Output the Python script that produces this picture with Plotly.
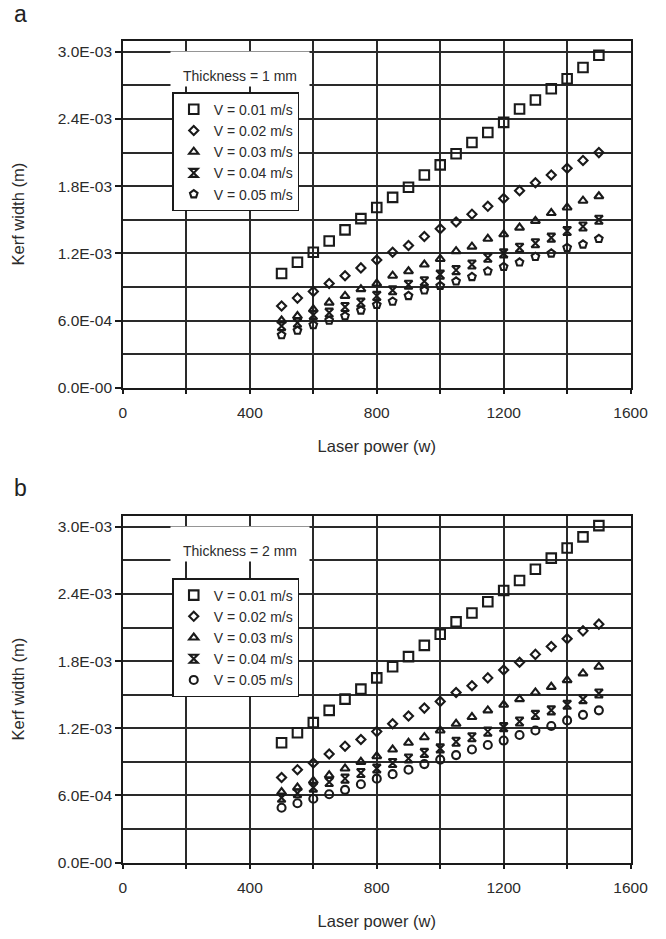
import plotly.graph_objects as go

# Laser power (W) shared by every series
power = [500, 550, 600, 650, 700, 750, 800, 850, 900, 950, 1000,
         1050, 1100, 1150, 1200, 1250, 1300, 1350, 1400, 1450, 1500]

speeds = ["V = 0.01 m/s", "V = 0.02 m/s", "V = 0.03 m/s", "V = 0.04 m/s", "V = 0.05 m/s"]

# Kerf width in mm (converted to m when plotted) - thickness 1 mm
kerf_1mm_v01 = [1.02, 1.12, 1.21, 1.31, 1.41, 1.51, 1.61, 1.70, 1.79, 1.90, 1.99,
                2.09, 2.19, 2.28, 2.37, 2.49, 2.57, 2.67, 2.76, 2.86, 2.97]
kerf_1mm_v02 = [0.73, 0.80, 0.86, 0.93, 1.00, 1.07, 1.14, 1.21, 1.27, 1.35, 1.42,
                1.48, 1.55, 1.62, 1.69, 1.76, 1.83, 1.90, 1.96, 2.03, 2.10]
kerf_1mm_v03 = [0.60, 0.64, 0.70, 0.76, 0.82, 0.88, 0.93, 1.00, 1.04, 1.10, 1.15,
                1.22, 1.26, 1.33, 1.37, 1.43, 1.49, 1.56, 1.61, 1.67, 1.71]
kerf_1mm_v04 = [0.55, 0.58, 0.65, 0.67, 0.72, 0.76, 0.82, 0.87, 0.92, 0.95, 1.01,
                1.05, 1.10, 1.16, 1.20, 1.25, 1.29, 1.34, 1.40, 1.44, 1.50]
kerf_1mm_v05 = [0.47, 0.51, 0.56, 0.60, 0.64, 0.69, 0.74, 0.77, 0.82, 0.87, 0.91,
                0.95, 0.99, 1.04, 1.08, 1.12, 1.17, 1.20, 1.25, 1.28, 1.33]

# Kerf width in mm - thickness 2 mm
kerf_2mm_v01 = [1.07, 1.16, 1.25, 1.36, 1.46, 1.55, 1.65, 1.75, 1.84, 1.94, 2.04,
                2.15, 2.23, 2.33, 2.43, 2.52, 2.62, 2.72, 2.81, 2.91, 3.01]
kerf_2mm_v02 = [0.76, 0.83, 0.89, 0.97, 1.04, 1.10, 1.17, 1.24, 1.31, 1.38, 1.44,
                1.52, 1.58, 1.65, 1.72, 1.79, 1.86, 1.93, 2.00, 2.07, 2.13]
kerf_2mm_v03 = [0.63, 0.67, 0.73, 0.78, 0.84, 0.90, 0.95, 1.01, 1.07, 1.12, 1.18,
                1.24, 1.30, 1.36, 1.41, 1.46, 1.52, 1.57, 1.63, 1.69, 1.75]
kerf_2mm_v04 = [0.58, 0.62, 0.67, 0.72, 0.75, 0.80, 0.84, 0.89, 0.93, 0.98, 1.02,
                1.08, 1.12, 1.17, 1.21, 1.26, 1.32, 1.36, 1.41, 1.46, 1.51]
kerf_2mm_v05 = [0.49, 0.53, 0.57, 0.61, 0.65, 0.70, 0.75, 0.79, 0.83, 0.88, 0.92,
                0.96, 1.01, 1.05, 1.09, 1.14, 1.18, 1.22, 1.27, 1.32, 1.36]

y_tick_vals = [0.0, 0.0006, 0.0012, 0.0018, 0.0024, 0.0030]
y_tick_text = ["0.0E-00", "6.0E-04", "1.2E-03", "1.8E-03", "2.4E-03", "3.0E-03"]
y_grid_vals = [0.0003 * i for i in range(11)]
x_tick_vals = [0, 400, 800, 1200, 1600]
x_tick_text = ["0", "400", "800", "1200", "1600"]

FONT = "Liberation Sans, Arial, Helvetica, sans-serif"
INK = "#1a1a1a"
GRID = "#2a2a2a"
TEXT = "#2b2b2b"

symbols_1mm = ["square-open", "diamond-open", "triangle-up-open", "hourglass-open", "pentagon-open"]
symbols_2mm = ["square-open", "diamond-open", "triangle-up-open", "hourglass-open", "circle-open"]
sizes = [9.5, 7, 8, 8, 8]

W, H = 666, 939
x_dom = [123 / W, 648 / W]
dom_a = [1 - 391 / H, 1 - 41 / H]
dom_b = [1 - 870 / H, 1 - 520 / H]

fig = go.Figure()

panels = [
    ("x", "y", "legend", [kerf_1mm_v01, kerf_1mm_v02, kerf_1mm_v03, kerf_1mm_v04, kerf_1mm_v05], symbols_1mm),
    ("x2", "y2", "legend2", [kerf_2mm_v01, kerf_2mm_v02, kerf_2mm_v03, kerf_2mm_v04, kerf_2mm_v05], symbols_2mm),
]
for xa, ya, leg, series, syms in panels:
    for name, vals, sym, sz in zip(speeds, series, syms, sizes):
        fig.add_trace(go.Scatter(
            x=power, y=[v * 1e-3 for v in vals], mode="markers", name=name,
            xaxis=xa, yaxis=ya, legend=leg,
            marker=dict(symbol=sym, size=sz, color=INK, line=dict(color=INK, width=2.1)),
        ))

def x_axis(domain, anchor):
    return dict(
        domain=domain, anchor=anchor, range=[0, 1600],
        tickmode="array", tickvals=x_tick_vals, ticktext=x_tick_text,
        ticks="outside", ticklen=5, tickwidth=1.5, tickcolor=INK,
        ticklabelstandoff=5,
        showgrid=True, gridcolor=GRID, gridwidth=1.6,
        minor=dict(dtick=200, tick0=0, ticks="outside", ticklen=5, tickwidth=1.5,
                   tickcolor=INK, showgrid=True, gridcolor=GRID, gridwidth=1.6),
        showline=True, linecolor=INK, linewidth=1.6, mirror=True, zeroline=False,
        tickfont=dict(family=FONT, size=15.5, color=TEXT),
        title=dict(text="Laser power (w)", font=dict(family=FONT, size=16.5, color=TEXT), standoff=20),
    )

def y_axis(domain, anchor):
    return dict(
        domain=domain, anchor=anchor, range=[0, 0.0031],
        tickmode="array", tickvals=y_tick_vals, ticktext=y_tick_text,
        ticks="outside", ticklen=6, tickwidth=1.5, tickcolor=INK,
        showgrid=True, gridcolor=GRID, gridwidth=1.6,
        minor=dict(tickmode="array", tickvals=y_grid_vals, ticks="",
                   showgrid=True, gridcolor=GRID, gridwidth=1.6),
        showline=True, linecolor=INK, linewidth=1.6, mirror=True, zeroline=False,
        tickfont=dict(family=FONT, size=15.5, color=TEXT),
        title=dict(text="Kerf width (m)", font=dict(family=FONT, size=16.5, color=TEXT), standoff=29),
    )

legend_style = dict(
    xanchor="left", yanchor="top", bgcolor="white",
    bordercolor=INK, borderwidth=1.5,
    font=dict(family=FONT, size=14, color=TEXT),
    itemclick=False, itemdoubleclick=False,
)

fig.update_layout(
    width=W, height=H, margin=dict(l=0, r=0, t=0, b=0),
    paper_bgcolor="white", plot_bgcolor="white",
    font=dict(family=FONT, color=TEXT),
    xaxis=x_axis(x_dom, "y"), yaxis=y_axis(dom_a, "x"),
    xaxis2=x_axis(x_dom, "y2"), yaxis2=y_axis(dom_b, "x2"),
    legend=dict(x=174 / W, y=1 - 93 / H, **legend_style),
    legend2=dict(x=174 / W, y=1 - 583 / H, **legend_style),
    showlegend=True,
)

# Thickness captions on a white patch over the grid
for label, ycen in [("Thickness = 1 mm", 1 - 70 / H), ("Thickness = 2 mm", 1 - 549 / H)]:
    fig.add_annotation(
        text=label, xref="paper", yref="paper", x=244 / W, y=ycen,
        xanchor="center", yanchor="middle", showarrow=False,
        width=134, height=30, valign="bottom", align="center",
        bgcolor="white", borderpad=2,
        font=dict(family=FONT, size=14, color=TEXT),
    )

# Panel letters
for letter, ypos in [("a", 1 - 14 / H), ("b", 1 - 492 / H)]:
    fig.add_annotation(
        text=letter, xref="paper", yref="paper", x=8 / W, y=ypos,
        xanchor="left", yanchor="middle", showarrow=False,
        font=dict(family=FONT, size=23, color="#222"),
    )

fig.write_html("out.html")
